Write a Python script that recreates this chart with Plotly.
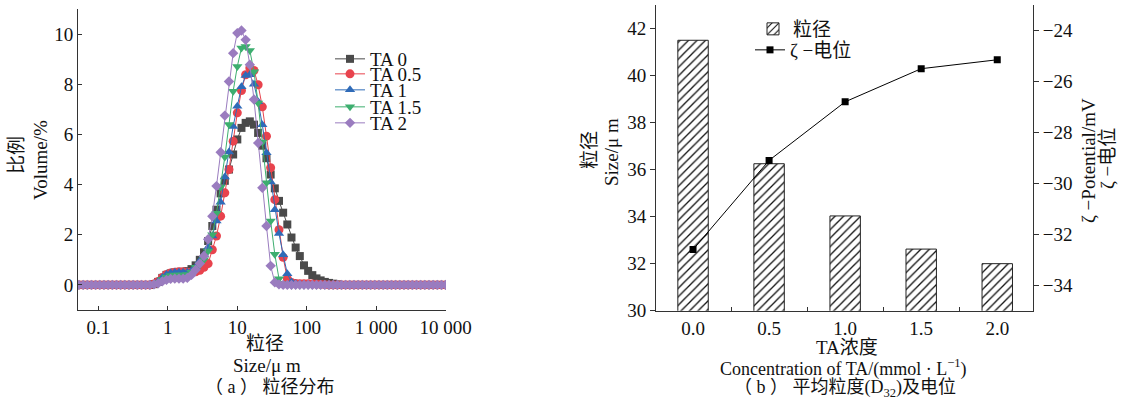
import plotly.graph_objects as go

# ---------------- data: (a) particle size distribution ----------------
sizes = [0.05248, 0.06026, 0.06918, 0.07943, 0.09120, 0.1047, 0.1202, 0.1380, 0.1585, 0.1820,
         0.2089, 0.2399, 0.2754, 0.3162, 0.3631, 0.4169, 0.4786, 0.5495, 0.6310, 0.7244,
         0.8318, 0.9550, 1.096, 1.259, 1.445, 1.660, 1.905, 2.188, 2.512, 2.884,
         3.311, 3.802, 4.365, 5.012, 5.754, 6.607, 7.586, 8.710, 10.00, 11.48,
         13.18, 15.14, 17.38, 19.95, 22.91, 26.30, 30.20, 34.67, 39.81, 45.71,
         52.48, 60.26, 69.18, 79.43, 91.20, 104.7, 120.2, 138.0, 158.5, 182.0,
         208.9, 239.9, 275.4, 316.2, 363.1, 416.9, 478.6, 549.5, 631.0, 724.4,
         831.8, 955.0, 1096, 1259, 1445, 1660, 1905, 2188, 2512, 2884,
         3311, 3802, 4365, 5012, 5754, 6607, 7586, 8710, 10000]

ta0 = [0, 0, 0, 0, 0, 0, 0, 0, 0, 0,
       0, 0, 0, 0, 0, 0, 0, 0, 0.03, 0.12,
       0.28, 0.40, 0.46, 0.50, 0.52, 0.52, 0.55, 0.63, 0.78, 1.00,
       1.30, 1.75, 2.35, 3.00, 3.65, 4.15, 4.60, 5.20, 5.80, 6.26,
       6.46, 6.52, 6.39, 6.06, 5.55, 5.05, 4.40, 3.85, 3.35, 2.88,
       2.41, 1.89, 1.49, 1.15, 0.78, 0.56, 0.39, 0.26, 0.18, 0.12,
       0.08, 0.05, 0.02, 0, 0, 0, 0, 0, 0, 0,
       0, 0, 0, 0, 0, 0, 0, 0, 0, 0,
       0, 0, 0, 0, 0, 0, 0, 0, 0]

ta05 = [0, 0, 0, 0, 0, 0, 0, 0, 0, 0,
        0, 0, 0, 0, 0, 0, 0, 0, 0.04, 0.14,
        0.30, 0.42, 0.48, 0.50, 0.52, 0.52, 0.50, 0.50, 0.52, 0.58,
        0.70, 0.85, 1.40, 1.95, 2.74, 3.67, 4.60, 5.73, 6.86, 7.75,
        8.38, 8.65, 8.55, 7.98, 7.10, 5.93, 4.67, 3.40, 2.20, 1.10,
        0.25, 0.10, 0.06, 0.05, 0.05, 0.05, 0.04, 0.03, 0.02, 0.01,
        0, 0, 0, 0, 0, 0, 0, 0, 0, 0,
        0, 0, 0, 0, 0, 0, 0, 0, 0, 0,
        0, 0, 0, 0, 0, 0, 0, 0, 0]

ta1 = [0, 0, 0, 0, 0, 0, 0, 0, 0, 0,
       0, 0, 0, 0, 0, 0, 0, 0, 0.04, 0.14,
       0.30, 0.42, 0.48, 0.50, 0.50, 0.50, 0.50, 0.55, 0.70, 0.95,
       1.20, 1.50, 1.95, 2.55, 3.30, 4.30, 5.30, 6.32, 7.12, 7.90,
       8.35, 8.38, 8.00, 7.30, 6.39, 5.27, 4.10, 3.00, 2.05, 1.20,
       0.45, 0.12, 0.05, 0.03, 0.02, 0.01, 0, 0, 0, 0,
       0, 0, 0, 0, 0, 0, 0, 0, 0, 0,
       0, 0, 0, 0, 0, 0, 0, 0, 0, 0,
       0, 0, 0, 0, 0, 0, 0, 0, 0]

ta15 = [0, 0, 0, 0, 0, 0, 0, 0, 0, 0,
        0, 0, 0, 0, 0, 0, 0, 0, 0.03, 0.10,
        0.22, 0.32, 0.38, 0.40, 0.40, 0.40, 0.42, 0.50, 0.70, 0.80,
        1.00, 1.35, 2.00, 2.86, 3.90, 5.10, 6.40, 7.72, 8.71, 9.45,
        9.50, 9.35, 8.50, 7.25, 5.70, 4.07, 2.55, 1.22, 0.25, 0.05,
        0.02, 0, 0, 0, 0, 0, 0, 0, 0, 0,
        0, 0, 0, 0, 0, 0, 0, 0, 0, 0,
        0, 0, 0, 0, 0, 0, 0, 0, 0, 0,
        0, 0, 0, 0, 0, 0, 0, 0, 0]

ta2 = [0, 0, 0, 0, 0, 0, 0, 0, 0, 0,
       0, 0, 0, 0, 0, 0, 0, 0, 0.02, 0.06,
       0.14, 0.20, 0.24, 0.25, 0.25, 0.25, 0.28, 0.40, 0.60, 0.85,
       1.15, 1.82, 2.74, 3.94, 5.29, 6.75, 8.11, 9.24, 10.04, 10.14,
       9.77, 8.78, 7.39, 5.66, 3.87, 2.35, 0.76, 0.10, 0.02, 0,
       0, 0, 0, 0, 0, 0, 0, 0, 0, 0,
       0, 0, 0, 0, 0, 0, 0, 0, 0, 0,
       0, 0, 0, 0, 0, 0, 0, 0, 0, 0,
       0, 0, 0, 0, 0, 0, 0, 0, 0]

series_names = ["TA 0", "TA 0.5", "TA 1", "TA 1.5", "TA 2"]
x_tickvals = [0.1, 1, 10, 100, 1000, 10000]
x_ticktext = ["0.1", "1", "10", "100", "1 000", "10 000"]

# ---------------- data: (b) mean size and zeta potential ----------------
conc = ["0.0", "0.5", "1.0", "1.5", "2.0"]
d32 = [41.5, 36.25, 34.03, 32.62, 32.0]
zeta = [-32.6, -29.1, -26.8, -25.5, -25.15]

FONT = "Liberation Serif, Noto Sans CJK SC, serif"
AX = "#333333"
TXT = "#111111"

fig = go.Figure()

colors = ["#4a4a4a", "#e8434d", "#2f6bb8", "#3dae6f", "#9a7cbf"]
symbols = ["square", "circle", "triangle-up", "triangle-down", "diamond"]
msizes = [8, 9, 9, 9, 8]
ys = [ta0, ta05, ta1, ta15, ta2]
for i in range(5):
    fig.add_trace(go.Scatter(
        x=sizes, y=ys[i], name=series_names[i], mode="lines+markers",
        line=dict(color=colors[i], width=1),
        marker=dict(symbol=symbols[i], size=msizes[i], color=colors[i], line=dict(width=0)),
        xaxis="x", yaxis="y", legend="legend" if i == 0 else "legend%d" % (i + 1)))

fig.add_trace(go.Bar(
    x=conc, y=d32, name="粒径", width=0.4,
    marker=dict(color="white", line=dict(color="#222", width=1),
                pattern=dict(shape="/", fgcolor="#111", bgcolor="white", size=6, solidity=0.22)),
    xaxis="x2", yaxis="y2", legend="legend6"))
fig.add_trace(go.Scatter(
    x=conc, y=zeta, name="ζ −电位", mode="lines+markers",
    line=dict(color="black", width=1),
    marker=dict(symbol="square", size=7, color="black"),
    xaxis="x2", yaxis="y3", legend="legend7"))

axis_common = dict(showline=True, linecolor=AX, linewidth=1, showgrid=False, zeroline=False,
                   automargin=False,
                   tickfont=dict(family=FONT, size=19, color=TXT), tickcolor=AX)

leg_common = dict(font=dict(family=FONT, size=19, color=TXT), bgcolor="rgba(0,0,0,0)",
                  borderwidth=0, xanchor="left", yanchor="middle", itemwidth=30)
legend_y_px = [59, 74, 90, 107, 123]
legs = {}
for i in range(5):
    key = "legend" if i == 0 else "legend%d" % (i + 1)
    legs[key] = dict(leg_common, x=330 / 1126, y=1 - legend_y_px[i] / 400)
legs["legend6"] = dict(leg_common, x=753 / 1126, y=1 - 29 / 400)
legs["legend7"] = dict(leg_common, x=750 / 1126, y=1 - 50 / 400)

fig.update_layout(
    template="none",
    width=1126, height=400, margin=dict(l=0, r=0, t=0, b=0, pad=0, autoexpand=False),
    paper_bgcolor="white", plot_bgcolor="white", showlegend=True,
    font=dict(family=FONT, size=19, color=TXT),
    xaxis=dict(axis_common, domain=[78 / 1126, 446 / 1126], type="log", range=[-1.294, 4.005],
               tickvals=x_tickvals, ticktext=x_ticktext, ticks="inside", ticklen=4, anchor="y"),
    yaxis=dict(axis_common, domain=[1 - 310 / 400, 1 - 9 / 400], range=[-1, 11],
               tickvals=[0, 2, 4, 6, 8, 10], ticks="inside", ticklen=4, anchor="x"),
    xaxis2=dict(axis_common, domain=[656 / 1126, 1033 / 1126], type="category", range=[-0.487, 4.47],
                ticks="inside", tickson="boundaries", ticklen=4, anchor="y2"),
    yaxis2=dict(axis_common, domain=[1 - 310.7 / 400, 1 - 5 / 400], range=[30, 43],
                tickvals=[30, 32, 34, 36, 38, 40, 42], ticks="outside", ticklen=5, anchor="x2"),
    yaxis3=dict(axis_common, domain=[1 - 310.7 / 400, 1 - 5 / 400], range=[-35, -23],
                tickvals=[-34, -32, -30, -28, -26, -24], ticks="outside", ticklen=5,
                overlaying="y2", side="right", anchor="x2"),
    bargap=0.5,
    **legs,
)

def ann(text, xpx, ypx, size=19, angle=0):
    fig.add_annotation(text=text, x=xpx / 1126, y=1 - ypx / 400, xref="paper", yref="paper",
                       showarrow=False, textangle=angle, xanchor="center", yanchor="middle",
                       font=dict(family=FONT, size=size, color=TXT))

# (a) titles
ann("粒径", 265, 343)
ann("Size/μ m", 267, 365)
ann("（ a ） 粒径分布", 270, 387, size=18)
ann("比例", 17, 155, angle=-90)
ann("Volume/%", 40, 160, angle=-90)
# (b) titles
ann("粒径", 589, 150, angle=-90)
ann("Size/μ m", 611, 152, angle=-90)
ann("ζ −Potential/mV", 1088, 161, angle=-90)
ann("ζ −电位", 1107, 159, angle=-90)
ann("TA浓度", 847, 347)
ann("Concentration of TA/(mmol · L<sup>−1</sup>)", 843, 368, size=18)
ann("（ b ） 平均粒度(D<sub>32</sub>)及电位", 845, 388, size=18)

fig.write_html("out.html")
